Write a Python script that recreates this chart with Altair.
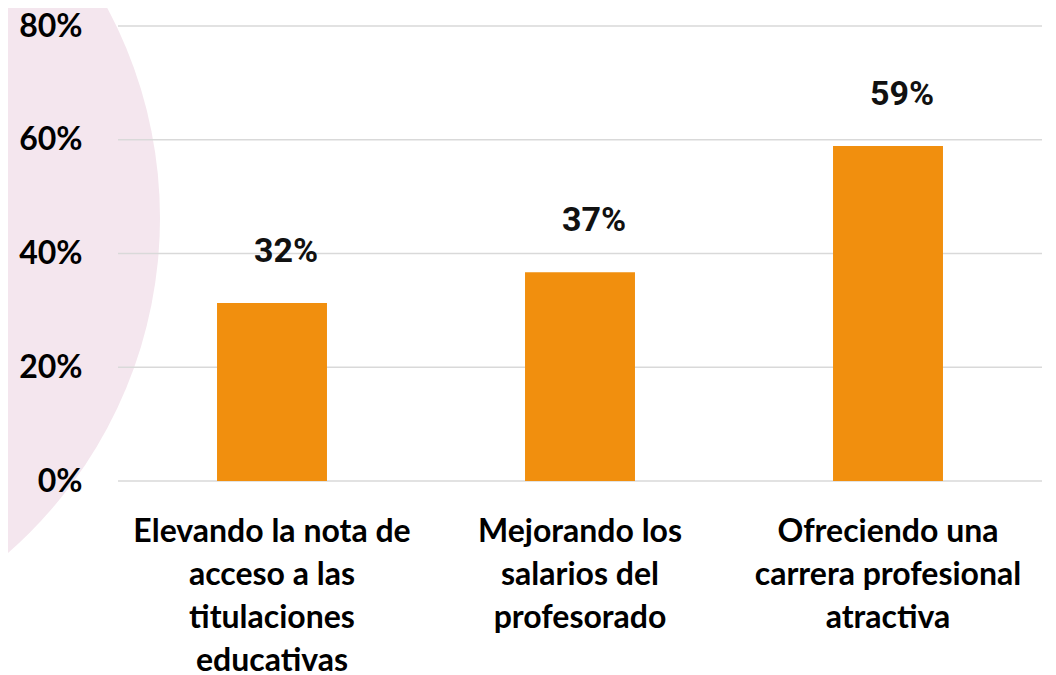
import altair as alt
import pandas as pd

categories = [
    "Elevando la nota de|acceso a las|titulaciones|educativas",
    "Mejorando los|salarios del|profesorado",
    "Ofreciendo una|carrera profesional|atractiva",
]
values = [31.3, 36.7, 58.9]
value_labels = ["32%", "37%", "59%"]
y_ticks = [0, 20, 40, 60, 80]

W, H = 924, 455

bars_df = pd.DataFrame({"cat": categories, "val": values, "lab": value_labels})
grid_df = pd.DataFrame({"val": y_ticks})
dot_df = pd.DataFrame({"k": [0]})

yscale = alt.Scale(domain=[0, 80], nice=False, zero=True)
xscale = alt.Scale(paddingInner=0.643, paddingOuter=0.3215)

yaxis = alt.Axis(
    values=y_ticks,
    labelExpr="datum.value + '%'",
    labelFont="Lato",
    labelFontSize=32,
    labelFontWeight="bold",
    labelColor="#000000",
    labelPadding=36,
    labelBaseline="middle",
    ticks=False,
    tickSize=0,
    domain=False,
    grid=False,
    zindex=2,
)

circle = alt.Chart(dot_df).mark_point(
    filled=True, shape="circle", size=792100, color="#F4E6EE", opacity=1, strokeWidth=0
).encode(x=alt.value(-403), y=alt.value(192))

grid = alt.Chart(grid_df).mark_rule(color="#D9D9D9", strokeWidth=1.5).encode(
    y=alt.Y("val:Q", scale=yscale, axis=yaxis, title=None),
    x=alt.value(0),
    x2=alt.value(W),
)

xenc = alt.X(
    "cat:N",
    sort=categories,
    scale=xscale,
    title=None,
    axis=alt.Axis(
        labelExpr="split(datum.label, '|')",
        labelAngle=0,
        labelFont="Lato",
        labelFontSize=32,
        labelFontWeight="bold",
        labelColor="#000000",
        labelLineHeight=43,
        labelBaseline="top",
        labelPadding=35,
        labelLimit=400,
        ticks=False,
        tickSize=0,
        domain=False,
        grid=False,
        zindex=2,
    ),
)

bars = alt.Chart(bars_df).mark_bar(color="#F18F0E").encode(
    x=xenc,
    y=alt.Y("val:Q", scale=yscale, axis=yaxis, title=None),
)

texts = alt.Chart(bars_df).mark_text(
    font="Roboto", fontSize=34, fontWeight="bold", color="#111111",
    dy=-41, dx=14, baseline="alphabetic"
).encode(
    x=alt.X("cat:N", sort=categories, scale=xscale, title=None),
    y=alt.Y("val:Q", scale=yscale, axis=yaxis, title=None),
    text="lab:N",
)

chart = alt.layer(circle, grid, bars, texts).properties(
    width=W,
    height=H,
    autosize=alt.AutoSizeParams(type="none"),
    padding={"left": 110, "top": 18, "right": 6, "bottom": 194},
).configure(background="white").configure_view(stroke=None)

chart.save("out.html", embed_options={"renderer": "svg", "actions": False})
